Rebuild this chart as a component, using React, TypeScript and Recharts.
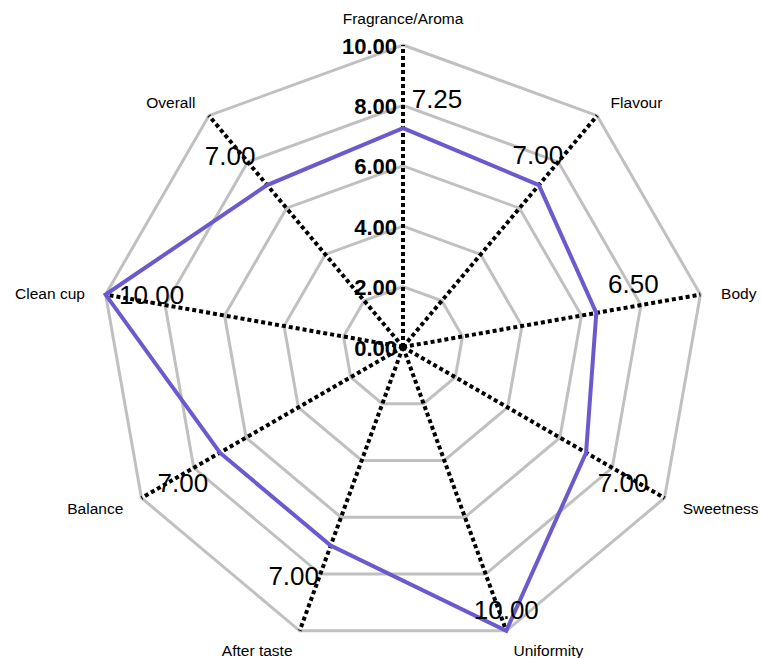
import React from 'react';
import { RadarChart, Radar, PolarGrid, PolarAngleAxis, PolarRadiusAxis, LabelList } from 'recharts';

const categories = [
  'Fragrance/Aroma',
  'Flavour',
  'Body',
  'Sweetness',
  'Uniformity',
  'After taste',
  'Balance',
  'Clean cup',
  'Overall',
];
const scores = [7.25, 7.0, 6.5, 7.0, 10.0, 7.0, 7.0, 10.0, 7.0];
const radiusTicks = [0, 2, 4, 6, 8, 10];

const data = categories.map((name, i) => ({ name, score: scores[i] }));

const W = 761;
const H = 658;
const CX = 403;
const CY = 347;
const R = 302;
const FONT = '"Liberation Sans", Arial, sans-serif';

// nudges for value labels that sit off the usual corner
const LABEL_SHIFT: Record<number, [number, number]> = {
  1: [-1, -30],
  4: [0, -21],
  7: [46, 0],
};

const AngleTick = (props: any) => {
  const { payload } = props;
  const a = (payload.coordinate * Math.PI) / 180;
  const cos = Math.cos(a);
  const sin = Math.sin(a);
  const r = R + 21;
  let x = CX + r * cos;
  let y = CY - r * sin + (sin > 0 ? 3 : 0);
  let anchor: 'start' | 'end' | 'middle' = 'middle';
  if (cos > 0.1) anchor = 'start';
  else if (cos < -0.1) anchor = 'end';
  if (anchor === 'middle' && sin > 0) y = CY - R - 27;
  return (
    <text x={x} y={y} textAnchor={anchor} dominantBaseline="central" fontSize={15.5} fontFamily={FONT} fill="#000">
      {payload.value}
    </text>
  );
};

const RadiusTick = (props: any) => {
  const { x, y, payload } = props;
  return (
    <text
      x={x - 6}
      y={y + 1}
      textAnchor="end"
      dominantBaseline="central"
      fontSize={22}
      fontWeight="bold"
      fontFamily={FONT}
      fill="#000"
    >
      {Number(payload.value).toFixed(2)}
    </text>
  );
};

const ValueLabel = (props: any) => {
  const { x, y, value, index } = props;
  const a = ((90 - index * (360 / categories.length)) * Math.PI) / 180;
  const cos = Math.cos(a);
  const sin = Math.sin(a);
  let dx = cos > 0.05 ? 37 : cos < -0.05 ? -37 : 34;
  let dy = sin >= 0 ? -29 : 30;
  if (LABEL_SHIFT[index]) [dx, dy] = LABEL_SHIFT[index];
  return (
    <text
      x={x + dx}
      y={y + dy}
      textAnchor="middle"
      dominantBaseline="central"
      fontSize={26}
      fontFamily={FONT}
      fill="#000"
    >
      {Number(value).toFixed(2)}
    </text>
  );
};

export default function App() {
  return (
    <div style={{ position: 'absolute', left: 0, top: 0, width: W, height: H, overflow: 'hidden', background: '#fff' }}>
      <RadarChart
        width={W}
        height={H}
        data={data}
        cx={CX}
        cy={CY}
        outerRadius={R}
        margin={{ top: 0, right: 0, bottom: 0, left: 0 }}
      >
        <PolarGrid gridType="polygon" radialLines={false} stroke="#c0c0c0" strokeWidth={3} />
        <PolarAngleAxis dataKey="name" tick={<AngleTick />} tickLine={false} axisLine={false} />
        <PolarRadiusAxis
          angle={90}
          orientation="left"
          domain={[0, 10]}
          ticks={radiusTicks}
          tickCount={6}
          axisLine={false}
          tickLine={false}
          tick={<RadiusTick />}
        />
        <Radar
          dataKey="score"
          stroke="#6a5acd"
          strokeWidth={4}
          fill="none"
          fillOpacity={0}
          dot={false}
          isAnimationActive={false}
        >
          <LabelList dataKey="score" content={<ValueLabel />} />
        </Radar>
        <PolarGrid
          gridType="polygon"
          polarRadius={[0]}
          stroke="#000"
          strokeWidth={4}
          strokeDasharray="4 3"
        />
      </RadarChart>
    </div>
  );
}
